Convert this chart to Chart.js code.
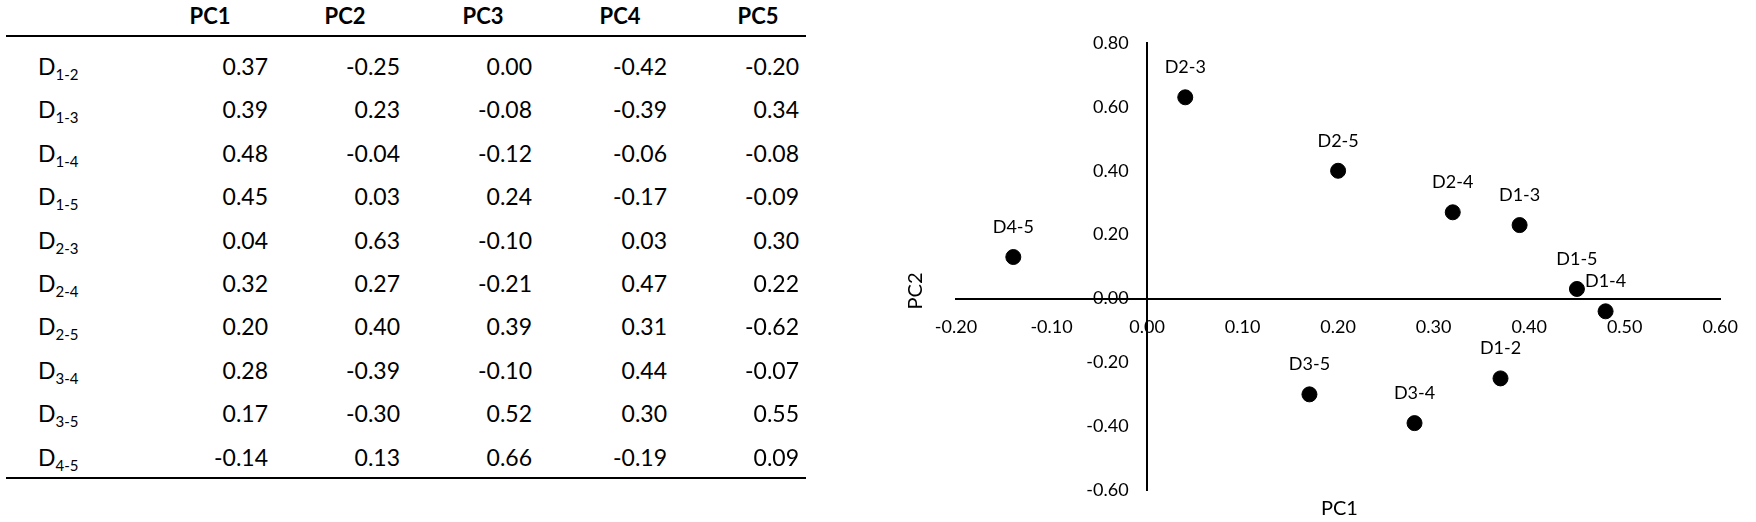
<!DOCTYPE html>
<html>
<head>
<meta charset="utf-8">
<script src="https://cdn.jsdelivr.net/npm/chart.js@4.4.1/dist/chart.umd.min.js"></script>
<style>
  body { margin: 0; background: #fff; font-family: Lato, sans-serif; color: #000; }
  #page { position: relative; width: 1756px; height: 522px; overflow: hidden; }
  .cell { position: absolute; font-size: 23px; line-height: 26px; white-space: nowrap; }
  .head { font-weight: bold; font-size: 22px; transform: translateX(-50%); }
  .num { transform: translateX(-100%); }
  .rule { position: absolute; left: 6px; width: 800px; height: 2px; background: #000; }
  sub { font-size: 15px; vertical-align: -5px; line-height: 0; }
  #chartBox { position: absolute; left: 880px; top: 0; }
  .axisTitle { position: absolute; font-size: 20px; }
</style>
</head>
<body>
<div id="page">
  <div class="rule" style="top:35px"></div>
  <div class="rule" style="top:477px"></div>
  <canvas id="chartBox" width="876" height="522"></canvas>
  <div class="axisTitle" style="left:1321px; top:495px;">PC1</div>
  <div class="axisTitle" style="left:896px; top:279px; transform: rotate(-90deg);">PC2</div>
</div>
<script>
const pairs = ['1-2', '1-3', '1-4', '1-5', '2-3', '2-4', '2-5', '3-4', '3-5', '4-5'];
const components = ['PC1', 'PC2', 'PC3', 'PC4', 'PC5'];
const pc1 = [0.37, 0.39, 0.48, 0.45, 0.04, 0.32, 0.20, 0.28, 0.17, -0.14];
const pc2 = [-0.25, 0.23, -0.04, 0.03, 0.63, 0.27, 0.40, -0.39, -0.30, 0.13];
const pc3 = [0.00, -0.08, -0.12, 0.24, -0.10, -0.21, 0.39, -0.10, 0.52, 0.66];
const pc4 = [-0.42, -0.39, -0.06, -0.17, 0.03, 0.47, 0.31, 0.44, 0.30, -0.19];
const pc5 = [-0.20, 0.34, -0.08, -0.09, 0.30, 0.22, -0.62, -0.07, 0.55, 0.09];

// table on the left
const page = document.getElementById('page');
const headCenters = [210, 345, 483, 620, 758];
const numRights = [268, 400, 532, 667, 799];
const columns = [pc1, pc2, pc3, pc4, pc5];

function addCell(cls, html, left, top) {
    const d = document.createElement('div');
    d.className = 'cell ' + cls;
    d.innerHTML = html;
    d.style.left = left + 'px';
    d.style.top = top + 'px';
    page.appendChild(d);
}

components.forEach((c, i) => addCell('head', c, headCenters[i], 3));
pairs.forEach((p, r) => {
    const y = 53 + r * 43.4;
    addCell('', 'D<sub>' + p + '</sub>', 38, y);
    columns.forEach((col, i) => addCell('num', col[r].toFixed(2), numRights[i], y));
});

// label plugin for the scatter points
const pointLabels = {
    id: 'pointLabels',
    afterDatasetsDraw(chart) {
        const ctx = chart.ctx;
        const meta = chart.getDatasetMeta(0);
        ctx.save();
        ctx.font = '18px Lato';
        ctx.fillStyle = '#000';
        ctx.textAlign = 'center';
        ctx.textBaseline = 'middle';
        meta.data.forEach((pt, i) => {
            ctx.fillText('D' + pairs[i], pt.x, pt.y - 30);
        });
        ctx.restore();
    }
};

function fmt(v) {
    return (Math.abs(v) < 1e-9 ? 0 : v).toFixed(2);
}

const ctx = document.getElementById('chartBox').getContext('2d');
new Chart(ctx, {
    type: 'scatter',
    data: {
        datasets: [{
            data: pc1.map((x, i) => ({ x: x, y: pc2[i] })),
            backgroundColor: '#000',
            borderColor: '#000',
            pointRadius: 7.5,
            pointHoverRadius: 7.5
        }]
    },
    options: {
        responsive: false,
        animation: false,
        layout: { padding: { left: 76, right: 25, top: 43, bottom: 26 } },
        plugins: { legend: { display: false }, tooltip: { enabled: false } },
        scales: {
            x: {
                type: 'linear',
                position: { y: 0 },
                min: -0.2,
                max: 0.6,
                grid: { display: false, drawTicks: false },
                border: { display: true, color: '#000', width: 2 },
                ticks: {
                    stepSize: 0.1,
                    autoSkip: false,
                    maxRotation: 0,
                    padding: 18,
                    color: '#000',
                    font: { family: 'Lato', size: 18 },
                    callback: v => fmt(v)
                }
            },
            y: {
                type: 'linear',
                position: { x: 0 },
                min: -0.6,
                max: 0.8,
                grid: { display: false, drawTicks: false },
                border: { display: true, color: '#000', width: 2 },
                ticks: {
                    stepSize: 0.2,
                    autoSkip: false,
                    padding: 21,
                    color: '#000',
                    font: { family: 'Lato', size: 18 },
                    // centred axis ignores padding, so pad the text itself
                    callback: v => fmt(v) + '    '
                }
            }
        }
    },
    plugins: [pointLabels]
});
</script>
</body>
</html>
